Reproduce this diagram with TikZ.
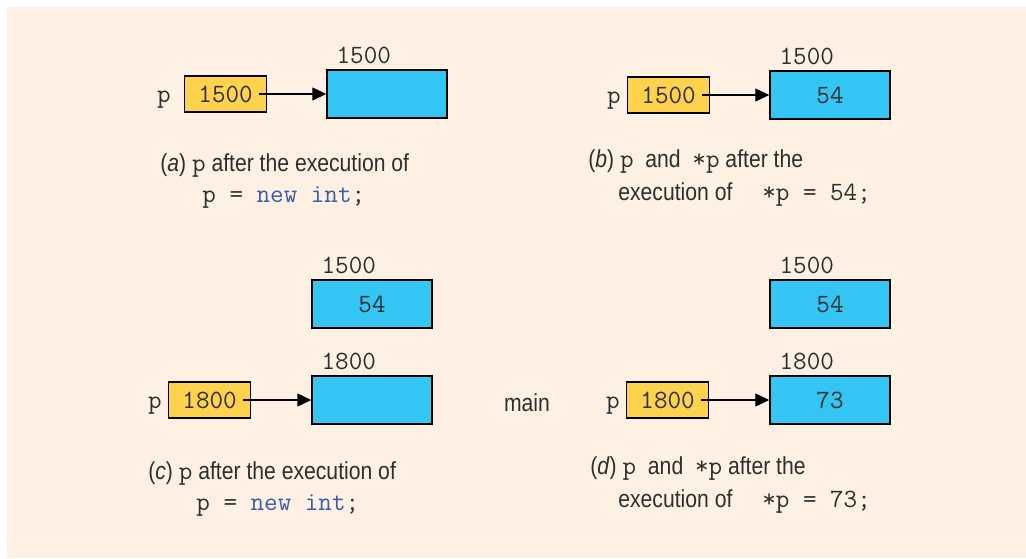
\documentclass[tikz,border=0pt]{standalone}
\usepackage{fontspec}
\setmainfont{Liberation Sans}[FakeStretch=0.86]
\usepackage{xcolor}
\usepackage{tikz}
\usetikzlibrary{arrows.meta, positioning}
\definecolor{bgbeige}{HTML}{FEF1E3}
\definecolor{ptryellow}{HTML}{FFD24D}
\definecolor{cellblue}{HTML}{33C6F4}
\definecolor{txtgray}{HTML}{2E2E2E}
\definecolor{kwblue}{HTML}{3C5DAA}
\newcommand{\cw}[1]{{\fontsize{15}{18}\selectfont\ttfamily #1}}
\tikzstyle{pointer} = [rectangle, draw=black, line width=0.8pt, fill=ptryellow, minimum width=1.64cm,
    minimum height=0.72cm, inner sep=0pt, text=txtgray, font=\fontsize{15}{18}\selectfont\ttfamily]
\tikzstyle{cell}    = [rectangle, draw=black, line width=0.8pt, fill=cellblue, minimum width=2.4cm,
    minimum height=0.96cm, inner sep=0pt, text=txtgray, font=\fontsize{15}{18}\selectfont\ttfamily]
\tikzstyle{addr}    = [inner sep=0pt, text=txtgray, font=\fontsize{15}{18}\selectfont\ttfamily]
\tikzstyle{caption} = [inner sep=0pt, anchor=base west, text=txtgray, font=\fontsize{14}{16}\selectfont]
\tikzstyle{arrow}   = [line width=0.7pt, -{Triangle[length=0.28cm,width=0.26cm]}]

\begin{document}
\begin{tikzpicture}[x=0.02cm, y=-0.02cm]
    \useasboundingbox (0,0) rectangle (1026,558);
    \fill[white] (0,0) rectangle (1026,558);
    \fill[bgbeige] (7,7) rectangle (1026,558);
    % (a)
    \node (memA)  [cell] at (387,94)                       {};
    \node (addrA) [addr, above right=0.1cm and 0.2cm of memA.north west] {1500};
    \node (ptrA)  [pointer, left=1.18cm of memA]           {1500};
    \node (pA)    [addr, left=0.26cm of ptrA.base west, anchor=base east] {p};
    \draw [arrow] ([xshift=-0.16cm]ptrA.east) -- (ptrA.east -| memA.west);
    \node (capA1) [caption] at (160,171) {(\textit{a}) \cw{p} after the execution of};
    \node (capA2) [caption] at (202,202) {\cw{p = \textcolor{kwblue}{new int};}};
    % (b)
    \node (memB)  [cell] at (830,95)                       {54};
    \node (addrB) [addr, above right=0.1cm and 0.2cm of memB.north west] {1500};
    \node (ptrB)  [pointer, left=1.18cm of memB]           {1500};
    \node (pB)    [addr, left=0.12cm of ptrB.base west, anchor=base east] {p};
    \draw [arrow] ([xshift=-0.16cm]ptrB.east) -- (ptrB.east -| memB.west);
    \node (capB1) [caption] at (588,167) {(\textit{b}) \cw{p}\ \ and\ \ \cw{*p} after the};
    \node (capB2) [caption] at (618,200) {execution of\hspace{17pt}\cw{*p = 54;}};
    % (c)
    \node (memC1)  [cell] at (372,304)                     {54};
    \node (addrC1) [addr, above right=0.1cm and 0.2cm of memC1.north west] {1500};
    \node (memC2)  [cell] at (372,400)                     {};
    \node (addrC2) [addr, above right=0.1cm and 0.2cm of memC2.north west] {1800};
    \node (ptrC)   [pointer, left=1.2cm of memC2]          {1800};
    \node (pC)     [addr, left=0.12cm of ptrC.base west, anchor=base east] {p};
    \draw [arrow] ([xshift=-0.16cm]ptrC.east) -- (ptrC.east -| memC2.west);
    \node (capC1) [caption] at (148,479) {(\textit{c}) \cw{p} after the execution of};
    \node (capC2) [caption] at (196,510) {\cw{p = \textcolor{kwblue}{new int};}};
    % main
    \node (main) [inner sep=0pt, text=txtgray, font=\fontsize{14}{16}\selectfont] at (527,403) {main};
    % (d)
    \node (memD1)  [cell] at (830,304)                     {54};
    \node (addrD1) [addr, above right=0.1cm and 0.2cm of memD1.north west] {1500};
    \node (memD2)  [cell] at (830,400)                     {73};
    \node (addrD2) [addr, above right=0.1cm and 0.2cm of memD2.north west] {1800};
    \node (ptrD)   [pointer, left=1.2cm of memD2]          {1800};
    \node (pD)     [addr, left=0.12cm of ptrD.base west, anchor=base east] {p};
    \draw [arrow] ([xshift=-0.16cm]ptrD.east) -- (ptrD.east -| memD2.west);
    \node (capD1) [caption] at (590,474) {(\textit{d}) \cw{p}\ \ and\ \ \cw{*p} after the};
    \node (capD2) [caption] at (618,507) {execution of\hspace{17pt}\cw{*p = 73;}};
\end{tikzpicture}
\end{document}
